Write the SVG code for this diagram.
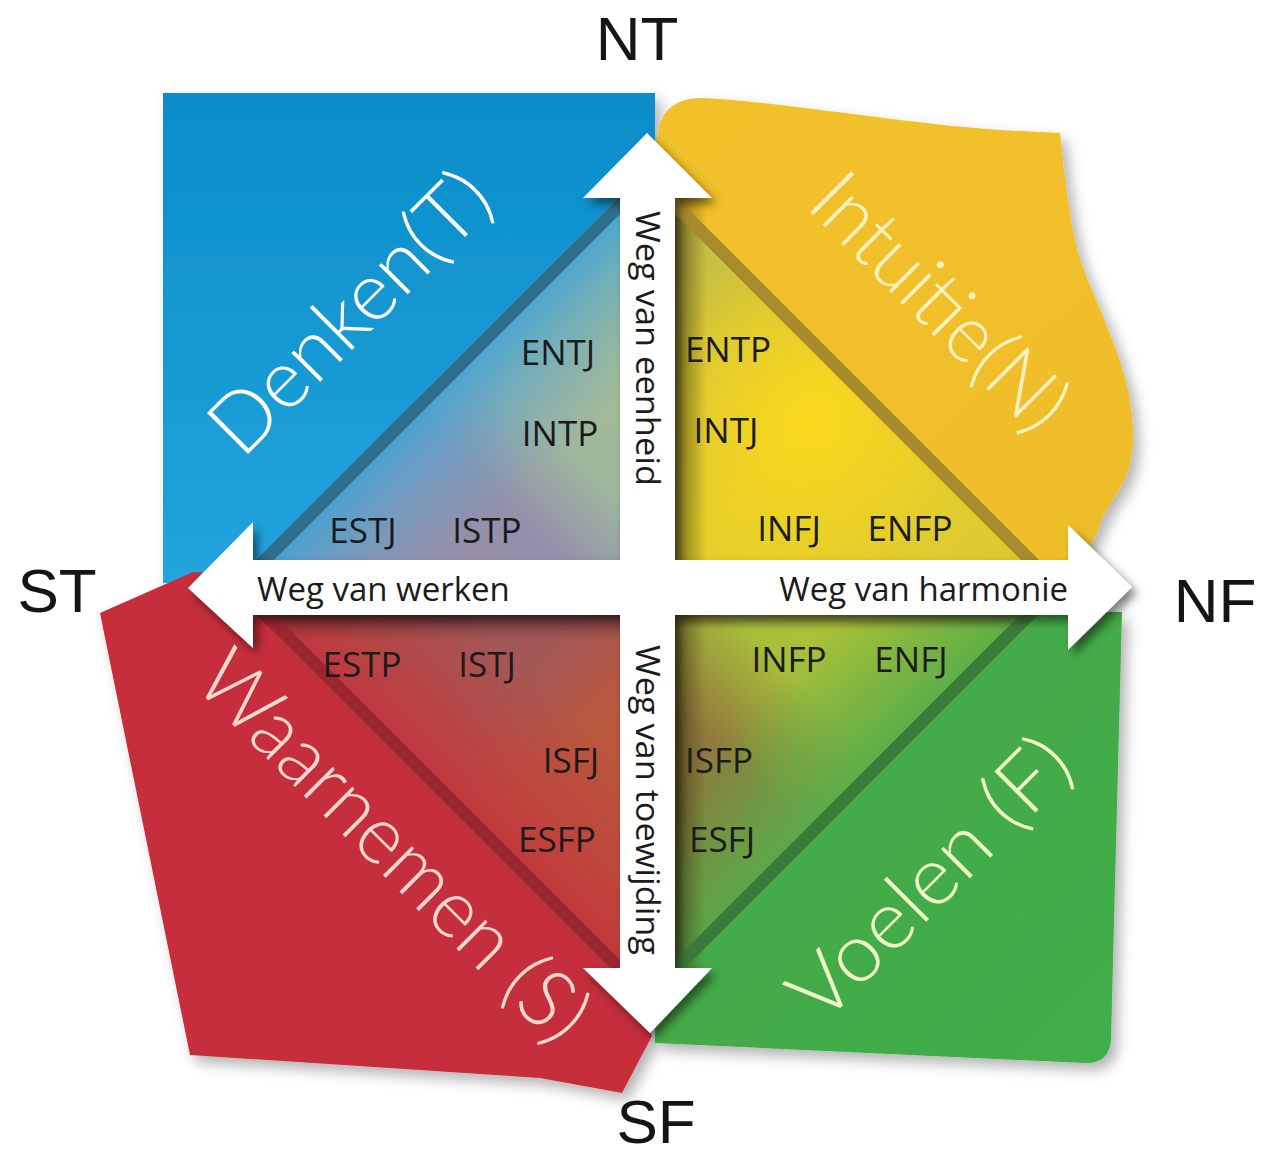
<svg xmlns="http://www.w3.org/2000/svg" width="1262" height="1157" viewBox="0 0 1262 1157">
<defs>
<style>
.big{font-family:Lato,"Open Sans","DejaVu Sans",sans-serif;font-weight:300;font-size:82px}
.type{font-family:"Open Sans","Liberation Sans",sans-serif;font-size:35px;fill:#1b1b1b;text-anchor:middle}
.axis{font-family:"Open Sans","Liberation Sans",sans-serif;font-size:33px;fill:#1b1b1b}
.pole{font-family:"Liberation Sans",Arial,sans-serif;font-size:62px;fill:#151515;text-anchor:middle}
</style>
<filter id="sh" x="-10%" y="-10%" width="125%" height="125%">
<feDropShadow dx="6" dy="7" stdDeviation="7" flood-color="#000" flood-opacity="0.3"/>
</filter>
<filter id="ash" x="-10%" y="-10%" width="125%" height="125%">
<feDropShadow dx="5" dy="6" stdDeviation="5" flood-color="#000" flood-opacity="0.5"/>
</filter>
<linearGradient id="blue" x1="0" y1="0" x2="0" y2="1">
<stop offset="0" stop-color="#0a8dca"/><stop offset="1" stop-color="#22a4dc"/>
</linearGradient>
<linearGradient id="yel" x1="0" y1="0" x2="1" y2="1">
<stop offset="0" stop-color="#f2c12c"/><stop offset="1" stop-color="#efbd28"/>
</linearGradient>
<linearGradient id="grn" x1="0" y1="0" x2="1" y2="1">
<stop offset="0" stop-color="#4aa74a"/><stop offset="1" stop-color="#3fae48"/>
</linearGradient>
<linearGradient id="red" x1="0" y1="0" x2="1" y2="1">
<stop offset="0" stop-color="#c62f3a"/><stop offset="1" stop-color="#c52e3b"/>
</linearGradient>
<linearGradient id="tlA" gradientUnits="userSpaceOnUse" x1="256" y1="560" x2="620" y2="196">
<stop offset="0" stop-color="#9d89a0"/><stop offset="0.42" stop-color="#9490aa"/><stop offset="0.58" stop-color="#9fb69e"/><stop offset="1" stop-color="#a9c487"/>
</linearGradient>
<linearGradient id="tlB" gradientUnits="userSpaceOnUse" x1="438" y1="378" x2="620" y2="560">
<stop offset="0" stop-color="#3aa3da" stop-opacity="0.95"/><stop offset="0.22" stop-color="#55a6d2" stop-opacity="0.6"/><stop offset="0.55" stop-color="#6aa6c8" stop-opacity="0"/>
</linearGradient>
<linearGradient id="trA" gradientUnits="userSpaceOnUse" x1="675" y1="196" x2="1039" y2="560">
<stop offset="0" stop-color="#bfba48"/><stop offset="0.5" stop-color="#e6cf2a"/><stop offset="1" stop-color="#dcc930"/>
</linearGradient>
<radialGradient id="trB" gradientUnits="userSpaceOnUse" cx="810" cy="420" r="170">
<stop offset="0" stop-color="#fdd919" stop-opacity="0.85"/><stop offset="1" stop-color="#fdd919" stop-opacity="0"/>
</radialGradient>
<linearGradient id="blA" gradientUnits="userSpaceOnUse" x1="256" y1="614" x2="620" y2="978">
<stop offset="0" stop-color="#9c565a"/><stop offset="0.45" stop-color="#a35856"/><stop offset="0.62" stop-color="#b9573e"/><stop offset="1" stop-color="#bd543a"/>
</linearGradient>
<linearGradient id="blB" gradientUnits="userSpaceOnUse" x1="438" y1="796" x2="620" y2="614">
<stop offset="0" stop-color="#c3353c" stop-opacity="1"/><stop offset="0.28" stop-color="#c13d3c" stop-opacity="0.6"/><stop offset="0.6" stop-color="#c13d3c" stop-opacity="0"/>
</linearGradient>
<linearGradient id="brA" gradientUnits="userSpaceOnUse" x1="1039" y1="614" x2="675" y2="978">
<stop offset="0" stop-color="#b4c430"/><stop offset="0.42" stop-color="#a8bf3a"/><stop offset="0.62" stop-color="#907a3c"/><stop offset="1" stop-color="#8a653a"/>
</linearGradient>
<linearGradient id="brB" gradientUnits="userSpaceOnUse" x1="857" y1="796" x2="675" y2="614">
<stop offset="0" stop-color="#55ad4a" stop-opacity="1"/><stop offset="0.25" stop-color="#5bae48" stop-opacity="0.6"/><stop offset="0.55" stop-color="#5bae48" stop-opacity="0"/>
</linearGradient>
<linearGradient id="shL" x1="0" y1="0" x2="1" y2="0">
<stop offset="0" stop-color="#3a3410" stop-opacity="0.6"/><stop offset="1" stop-color="#3a3410" stop-opacity="0"/>
</linearGradient>
<linearGradient id="shT" x1="0" y1="0" x2="0" y2="1">
<stop offset="0" stop-color="#3a1a1c" stop-opacity="0.55"/><stop offset="1" stop-color="#3a1a1c" stop-opacity="0"/>
</linearGradient>
</defs>
<rect width="1262" height="1157" fill="#ffffff"/>

<g id="quadrant-shapes" filter="url(#sh)">
<rect id="denken-bg" x="163" y="93" width="492" height="490" fill="url(#blue)"/>
<path id="intuitie-bg" fill="url(#yel)" d="M657,145 C657,115 670,100 698,98 C770,100 900,123 1000,130 L1060,133 C1064,170 1070,230 1082,265 C1095,300 1118,345 1128,390 C1136,430 1135,462 1122,485 C1110,505 1100,518 1098,532 L1080,560 L657,560 Z"/>
<path id="voelen-bg" fill="url(#grn)" d="M655,612 L1122,612 L1111,1040 Q1109,1064 1085,1063 L655,1043 Z"/>
<path id="waarnemen-bg" fill="url(#red)" d="M100,613 L193,572 L640,590 L640,1000 L652,1036 L622,1093 L540,1078 L190,1055 Z"/>
</g>

<g id="node-TL">
<polygon points="620,196 256,560 620,560" fill="url(#tlA)"/>
<polygon points="620,196 256,560 620,560" fill="url(#tlB)"/>
<polygon points="620,196 256,560 274,560 620,214" fill="#2f6e8b"/>
</g>
<g id="node-TR">
<polygon points="675,196 1039,560 675,560" fill="url(#trA)"/>
<polygon points="675,196 1039,560 675,560" fill="url(#trB)"/>
<rect x="675" y="196" width="32" height="364" fill="url(#shL)"/>
<polygon points="675,196 1039,560 1021,560 675,214" fill="#a8892c"/>
</g>
<g id="node-BL">
<polygon points="256,614 620,978 620,614" fill="url(#blA)"/>
<polygon points="256,614 620,978 620,614" fill="url(#blB)"/>
<polygon points="256,614 620,614 620,640 282,640" fill="url(#shT)"/>
<polygon points="256,614 620,978 620,960 274,614" fill="#9a2630"/>
</g>
<g id="node-BR">
<polygon points="1039,614 675,978 675,614" fill="url(#brA)"/>
<polygon points="1039,614 675,978 675,614" fill="url(#brB)"/>
<rect x="675" y="614" width="30" height="364" fill="url(#shL)"/>
<polygon points="675,614 1039,614 1023,630 675,630" fill="url(#shT)" opacity="0.6"/>
<polygon points="1039,614 675,978 675,960 1021,614" fill="#3b7b3a"/>
</g>

<g id="node-labels">
<text class="big" fill="#ffffff" text-anchor="middle" textLength="362" lengthAdjust="spacingAndGlyphs" transform="translate(370,332) rotate(-45)">Denken(T)</text>
<text class="big" fill="#fdf1bf" text-anchor="middle" textLength="326" lengthAdjust="spacingAndGlyphs" transform="translate(920,322) rotate(45)">Intuitie(N)</text>
<text class="big" fill="#fbd8cf" text-anchor="middle" textLength="515" lengthAdjust="spacingAndGlyphs" transform="translate(374,866) rotate(45)">Waarnemen (S)</text>
<text class="big" fill="#eef6c6" text-anchor="middle" textLength="362" lengthAdjust="spacingAndGlyphs" transform="translate(950,898) rotate(-45)">Voelen (F)</text>
</g>

<g id="connectors">
<path filter="url(#ash)" fill="#ffffff" d="M647,133 L712,198 L675,198 L675,560 L1068,560 L1068,525 L1132,587 L1068,650 L1068,615 L675,615 L675,968 L712,968 L650,1033 L583,968 L620,968 L620,615 L253,615 L253,648 L188,588 L253,522 L253,560 L620,560 L620,198 L583,198 Z"/>
<text class="axis" x="257" y="601">Weg van werken</text>
<text class="axis" x="1068" y="601" text-anchor="end">Weg van harmonie</text>
<text class="axis" transform="translate(636,211) rotate(90)" textLength="275" lengthAdjust="spacingAndGlyphs">Weg van eenheid</text>
<text class="axis" transform="translate(636,645) rotate(90)" textLength="310" lengthAdjust="spacingAndGlyphs">Weg van toewijding</text>
</g>

<g id="types">
<text class="type" x="558" y="365">ENTJ</text>
<text class="type" x="560" y="446">INTP</text>
<text class="type" x="363" y="543">ESTJ</text>
<text class="type" x="487" y="543">ISTP</text>
<text class="type" x="728" y="362">ENTP</text>
<text class="type" x="726" y="443">INTJ</text>
<text class="type" x="789" y="541">INFJ</text>
<text class="type" x="910" y="541">ENFP</text>
<text class="type" x="362" y="677">ESTP</text>
<text class="type" x="487" y="677">ISTJ</text>
<text class="type" x="789" y="672">INFP</text>
<text class="type" x="911" y="672">ENFJ</text>
<text class="type" x="571" y="773">ISFJ</text>
<text class="type" x="557" y="852">ESFP</text>
<text class="type" x="719" y="773">ISFP</text>
<text class="type" x="722" y="852">ESFJ</text>
</g>

<g id="poles">
<text class="pole" x="637" y="60">NT</text>
<text class="pole" x="57" y="612">ST</text>
<text class="pole" x="1215" y="622">NF</text>
<text class="pole" x="656" y="1143" font-size="58">SF</text>
</g>
</svg>
